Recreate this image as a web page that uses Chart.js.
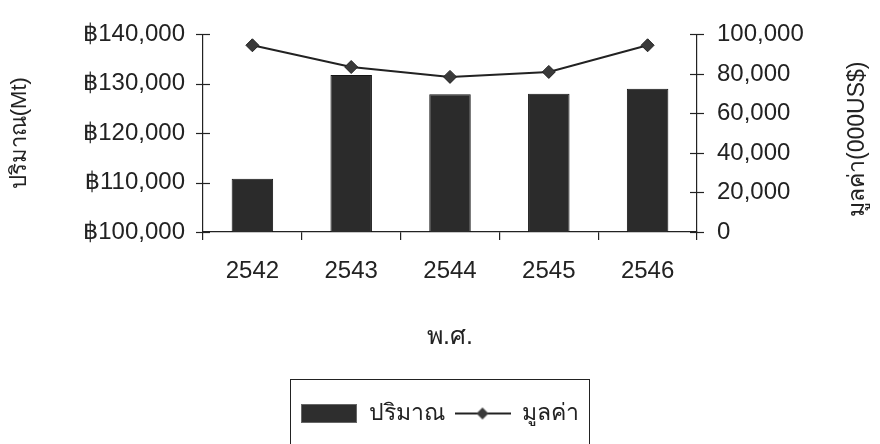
<!DOCTYPE html>
<html>
<head>
<meta charset="utf-8">
<script src="https://cdn.jsdelivr.net/npm/chart.js@4.4.0/dist/chart.umd.min.js"></script>
<style>
  html, body { margin: 0; padding: 0; background: #fff; }
  #wrap { width: 880px; height: 444px; }
</style>
</head>
<body>
<div id="wrap"><canvas id="myChart" width="880" height="444"></canvas></div>
<script>
// data
const years = ['2542', '2543', '2544', '2545', '2546'];
const quantity = [110800, 131800, 127900, 128000, 129000]; // ปริมาณ (Mt), left axis
const value = [94500, 83500, 78500, 81000, 94500];          // มูลค่า (000US$), right axis
const leftTicks = [100000, 110000, 120000, 130000, 140000];
const rightTicks = [0, 20000, 40000, 60000, 80000, 100000];

const quantityLabel = 'ปริมาณ';
const valueLabel = 'มูลค่า';
const leftTitle = 'ปริมาณ(Mt)';
const rightTitle = 'มูลค่า(000US$)';
const xTitle = 'พ.ศ.';

const ink = '#222';
const fontFamily = '"Liberation Sans", "DejaVu Sans", sans-serif';

// legend swatches
const barSwatch = document.createElement('canvas');
barSwatch.width = 56; barSwatch.height = 19;
(function () {
  const c = barSwatch.getContext('2d');
  c.fillStyle = '#2e2e2e';
  c.fillRect(0, 0, 56, 19);
  c.strokeStyle = '#666';
  c.strokeRect(0.5, 0.5, 55, 18);
})();

const lineSwatch = document.createElement('canvas');
lineSwatch.width = 56; lineSwatch.height = 14;
(function () {
  const c = lineSwatch.getContext('2d');
  c.strokeStyle = ink; c.lineWidth = 2;
  c.beginPath(); c.moveTo(0, 7); c.lineTo(56, 7); c.stroke();
  c.fillStyle = '#3a3a3a';
  c.beginPath(); c.moveTo(28, 1); c.lineTo(34, 7); c.lineTo(28, 13); c.lineTo(22, 7); c.closePath(); c.fill();
})();

const extras = {
  id: 'extras',
  afterDraw(chart) {
    const ctx = chart.ctx;
    ctx.save();
    // tick marks crossing both value axes
    ctx.strokeStyle = ink; ctx.lineWidth = 1.2;
    ['y', 'y1'].forEach(id => {
      const s = chart.scales[id];
      const x = id === 'y' ? s.right : s.left;
      s.ticks.forEach((t, i) => {
        const y = Math.round(s.getPixelForTick(i)) + 0.5;
        ctx.beginPath(); ctx.moveTo(x - 7, y); ctx.lineTo(x + 7, y); ctx.stroke();
      });
    });

    // legend frame (runs off the bottom like the scan)
    const boxes = chart.legend.legendHitBoxes;
    if (boxes.length) {
      const first = boxes[0], last = boxes[boxes.length - 1];
      const l = first.left - 11, r = last.left + last.width + 10, t = first.top - 23;
      ctx.lineWidth = 1;
      ctx.strokeRect(Math.round(l) + 0.5, Math.round(t) + 0.5, r - l, 100);
    }

    // right axis title reads bottom to top
    ctx.fillStyle = ink;
    ctx.font = '23px ' + fontFamily;
    ctx.translate(858, (chart.chartArea.top + chart.chartArea.bottom) / 2 + 6);
    ctx.rotate(-Math.PI / 2);
    ctx.textAlign = 'center'; ctx.textBaseline = 'middle';
    ctx.fillText(rightTitle, 0, 0);
    ctx.restore();
  }
};

const ctx = document.getElementById('myChart').getContext('2d');
const myChart = new Chart(ctx, {
  type: 'bar',
  data: {
    labels: years,
    datasets: [{
      type: 'line',
      label: valueLabel,
      data: value,
      yAxisID: 'y1',
      borderColor: ink,
      borderWidth: 2,
      pointStyle: 'rectRot',
      pointRadius: 6.5,
      pointBackgroundColor: '#3a3a3a',
      pointBorderColor: ink,
      pointBorderWidth: 1
    }, {
      label: quantityLabel,
      data: quantity,
      yAxisID: 'y',
      backgroundColor: '#2b2b2b',
      borderColor: '#151515',
      borderWidth: 1,
      barPercentage: 0.42,
      categoryPercentage: 1
    }]
  },
  options: {
    responsive: false,
    animation: false,
    devicePixelRatio: 1,
    layout: { padding: { top: 29, left: 0, right: 0, bottom: 9 } },
    plugins: {
      tooltip: { enabled: false },
      legend: {
        position: 'bottom',
        labels: {
          usePointStyle: true,
          pointStyleWidth: 56,
          padding: 10,
          color: ink,
          font: { family: fontFamily, size: 23 },
          generateLabels: () => [
            { text: quantityLabel, pointStyle: barSwatch, fillStyle: '#2b2b2b', strokeStyle: '#2b2b2b', lineWidth: 0, hidden: false, datasetIndex: 1, fontColor: ink },
            { text: valueLabel, pointStyle: lineSwatch, fillStyle: ink, strokeStyle: ink, lineWidth: 0, hidden: false, datasetIndex: 0, fontColor: ink }
          ]
        }
      }
    },
    scales: {
      x: {
        afterFit: (s) => { s.height = 160; },
        grid: { offset: true, drawOnChartArea: false, drawTicks: true, tickLength: 8, color: ink, lineWidth: 1.2 },
        border: { display: true, color: ink, width: 1.2 },
        ticks: { color: ink, padding: 17, font: { family: fontFamily, size: 24 } },
        title: { display: true, text: xTitle, color: ink, font: { family: fontFamily, size: 25 }, padding: { top: 0, bottom: 40 } }
      },
      y: {
        position: 'left',
        min: leftTicks[0],
        max: leftTicks[leftTicks.length - 1],
        afterFit: (s) => { s.width = 203; },
        afterBuildTicks: (s) => { s.ticks = leftTicks.map(v => ({ value: v })); },
        grid: { drawOnChartArea: false, drawTicks: false },
        border: { display: true, color: ink, width: 1.2 },
        ticks: {
          color: ink, padding: 18,
          font: { family: fontFamily, size: 24 },
          callback: (v) => '฿' + v.toLocaleString('en-US')
        },
        title: { display: true, text: leftTitle, color: ink, font: { family: fontFamily, size: 22 }, padding: { top: 7, bottom: 0 } }
      },
      y1: {
        position: 'right',
        min: rightTicks[0],
        max: rightTicks[rightTicks.length - 1],
        afterFit: (s) => { s.width = 183; },
        afterBuildTicks: (s) => { s.ticks = rightTicks.map(v => ({ value: v })); },
        grid: { drawOnChartArea: false, drawTicks: false },
        border: { display: true, color: ink, width: 1.2 },
        ticks: {
          color: ink, padding: 20,
          font: { family: fontFamily, size: 24 },
          callback: (v) => v.toLocaleString('en-US')
        }
      }
    }
  },
  plugins: [extras]
});
</script>
</body>
</html>
